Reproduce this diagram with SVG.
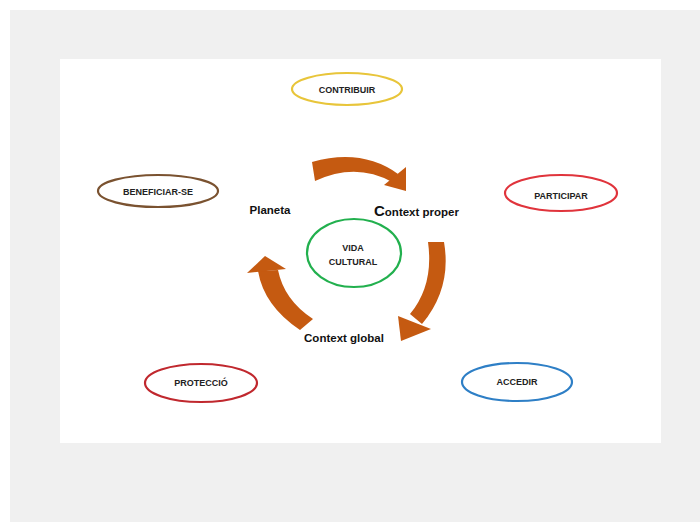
<svg xmlns="http://www.w3.org/2000/svg" width="700" height="522" viewBox="0 0 700 522">
<style>
.bg{fill:#f0f0f0}
.panel{fill:#ffffff}
.node{fill:#ffffff;stroke-width:2.2}
.lbl{font-family:"Liberation Sans",Arial,sans-serif;font-weight:bold;font-size:9px;fill:#222;text-anchor:middle}
.ctx{font-family:"Liberation Sans",Arial,sans-serif;font-weight:bold;font-size:11.5px;fill:#111}
.arr{fill:#c55a11}
</style>
<rect class="bg" x="10" y="10" width="690" height="512"/>
<rect class="panel" x="60" y="59" width="601" height="384"/>

<g id="connectors">
  <!-- top arrow -->
  <path class="arr" d="M312,162 Q362,148 398,174 L392,182 Q356,162 315,181 Z"/>
  <polygon class="arr" points="384,185 406,167 406,191"/>
  <!-- right arrow -->
  <path class="arr" d="M428,242 L444,242 Q452,288 422,324 L410,314 Q434,285 428,242 Z"/>
  <polygon class="arr" points="398,316 431,329 401,341"/>
  <!-- left arrow -->
  <path class="arr" d="M258,271 L278,270 Q284,300 313,319 L300,330 Q264,306 258,271 Z"/>
  <polygon class="arr" points="247,273 265,256 286,269"/>
</g>

<g id="contribuir">
  <ellipse class="node" cx="347" cy="89" rx="55" ry="16" stroke="#e8c53a"/>
  <text class="lbl" x="347" y="92.5">CONTRIBUIR</text>
</g>
<g id="beneficiar">
  <ellipse class="node" cx="158" cy="191" rx="60" ry="16" stroke="#7a5230"/>
  <text class="lbl" x="158" y="194.5">BENEFICIAR-SE</text>
</g>
<g id="participar">
  <ellipse class="node" cx="561" cy="193" rx="56" ry="18" stroke="#e0343c"/>
  <text class="lbl" x="561" y="199">PARTICIPAR</text>
</g>
<g id="vida">
  <ellipse class="node" cx="354" cy="253" rx="47" ry="34" stroke="#22b04e"/>
  <text class="lbl" x="353" y="251">VIDA</text>
  <text class="lbl" x="353" y="265">CULTURAL</text>
</g>
<g id="proteccio">
  <ellipse class="node" cx="201" cy="383" rx="56" ry="19" stroke="#c0282e"/>
  <text class="lbl" x="201" y="386">PROTECCIÓ</text>
</g>
<g id="accedir">
  <ellipse class="node" cx="517" cy="382" rx="55" ry="19" stroke="#2e7fc6"/>
  <text class="lbl" x="517" y="385">ACCEDIR</text>
</g>
<g id="planeta">
  <text class="ctx" x="270" y="214" text-anchor="middle" font-size="11">Planeta</text>
</g>
<g id="context-proper">
  <text class="ctx" x="374" y="216"><tspan font-size="15">C</tspan>ontext proper</text>
</g>
<g id="context-global">
  <text class="ctx" x="344" y="342" text-anchor="middle">Context global</text>
</g>
</svg>
